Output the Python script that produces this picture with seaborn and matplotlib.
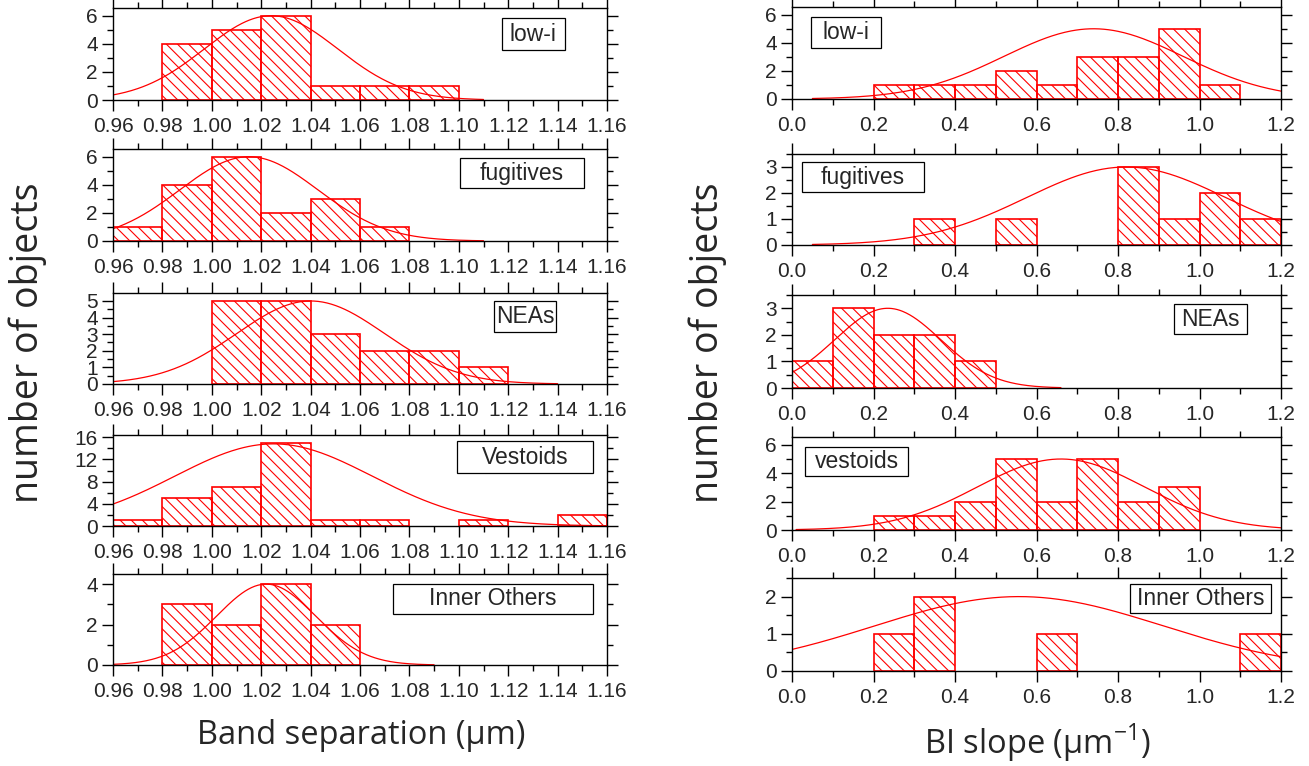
import numpy as np
import pandas as pd
import matplotlib
matplotlib.use("Agg")
import matplotlib.pyplot as plt
import seaborn as sns
from matplotlib.ticker import MultipleLocator, FormatStrFormatter
from matplotlib.patches import Rectangle

# ---------------- data ----------------
left_names = ["low-i", "fugitives", "NEAs", "Vestoids", "Inner Others"]
left_edges = [0.96, 0.98, 1.00, 1.02, 1.04, 1.06, 1.08, 1.10, 1.12, 1.14, 1.16]
left_lowi = [0, 4, 5, 6, 1, 1, 1, 0, 0, 0]
left_fugitives = [1, 4, 6, 2, 3, 1, 0, 0, 0, 0]
left_neas = [0, 0, 5, 5, 3, 2, 2, 1, 0, 0]
left_vestoids = [1, 5, 7, 15, 1, 1, 0, 1, 0, 2]
left_inner = [0, 3, 2, 4, 2, 0, 0, 0, 0, 0]
left_fit_mu = [1.024, 1.015, 1.040, 1.025, 1.022]
left_fit_sigma = [0.027, 0.028, 0.030, 0.040, 0.020]
left_fit_amp = [6.0, 6.0, 5.0, 14.8, 4.0]
left_fit_end = [1.11, 1.11, 1.14, 1.16, 1.09]
left_fit_start = [0.96, 0.96, 0.96, 0.96, 0.96]

right_names = ["low-i", "fugitives", "NEAs", "vestoids", "Inner Others"]
right_edges = [0.0, 0.1, 0.2, 0.3, 0.4, 0.5, 0.6, 0.7, 0.8, 0.9, 1.0, 1.1, 1.2]
right_lowi = [0, 0, 1, 1, 1, 2, 1, 3, 3, 5, 1, 0]
right_fugitives = [0, 0, 0, 1, 0, 1, 0, 0, 3, 1, 2, 1]
right_neas = [1, 3, 2, 2, 1, 0, 0, 0, 0, 0, 0, 0]
right_vestoids = [0, 0, 1, 1, 2, 5, 2, 5, 2, 3, 0, 0]
right_inner = [0, 0, 1, 2, 0, 0, 1, 0, 0, 0, 0, 1]
right_fit_mu = [0.74, 0.82, 0.235, 0.66, 0.557]
right_fit_sigma = [0.22, 0.245, 0.13, 0.205, 0.354]
right_fit_amp = [5.0, 3.0, 3.0, 5.0, 2.0]
right_fit_start = [0.05, 0.05, 0.0, 0.01, 0.0]
right_fit_end = [1.2, 1.2, 0.66, 1.2, 1.2]

left_counts = [left_lowi, left_fugitives, left_neas, left_vestoids, left_inner]
right_counts = [right_lowi, right_fugitives, right_neas, right_vestoids, right_inner]

# ---------------- style ----------------
sns.set_style("ticks")
plt.rcParams["font.family"] = ["Liberation Sans", "DejaVu Sans"]
plt.rcParams["hatch.linewidth"] = 0.8
plt.rcParams["hatch.color"] = "red"
plt.rcParams["mathtext.fontset"] = "custom"
plt.rcParams["mathtext.rm"] = "Open Sans"

W, H = 1309, 766
fig = plt.figure(figsize=(W / 100, H / 100), dpi=100)


def add_ax(x0, x1, y0, y1):
    return fig.add_axes([x0 / W, 1 - y1 / H, (x1 - x0) / W, (y1 - y0) / H])


left_rows = [(8, 100), (149, 241), (293, 384), (435, 526), (574, 665)]
right_rows = [(7, 99), (154, 245), (295, 388), (437, 530), (578, 671)]
left_ylim = [6.55, 6.55, 5.48, 16.4, 4.5]
left_ymaj = [2, 2, 1, 4, 2]
left_ymin = [1, 1, 0.5, 2, 1]
right_ylim = [6.55, 3.5, 3.5, 6.55, 2.5]
right_ymaj = [2, 1, 1, 2, 1]
right_ymin = [1, 0.5, 0.5, 1, 0.5]

left_boxes = [(0.787, 0.543, 0.915, 0.891), (0.702, 0.576, 0.953, 0.902),
              (0.771, 0.570, 0.897, 0.909), (0.696, 0.582, 0.972, 0.934),
              (0.567, 0.562, 0.972, 0.890)]
right_boxes = [(0.039, 0.554, 0.183, 0.888), (0.021, 0.577, 0.269, 0.916),
               (0.782, 0.582, 0.931, 0.898), (0.026, 0.583, 0.238, 0.891),
               (0.691, 0.628, 0.980, 0.931)]


def draw_panel(ax, edges, counts, mu, sigma, amp, xs0, xs1, xlim, xmaj, xmin, xfmt,
               ylim, ymaj, ymin, name, box):
    e = np.array(edges, dtype=float)
    centers = list((e[:-1] + e[1:]) / 2)
    df = pd.DataFrame({"x": centers, "w": [float(c) for c in counts]})
    sns.histplot(data=df, x="x", weights="w", bins=[float(v) for v in edges], ax=ax,
                 stat="count", facecolor="none", edgecolor="red", hatch="\\\\\\",
                 linewidth=1.2)
    for p in list(ax.patches):
        if p.get_height() == 0:
            p.remove()
    xs = np.linspace(xs0, xs1, 300)
    ys = amp * np.exp(-(xs - mu) ** 2 / (2 * sigma ** 2))
    sns.lineplot(x=xs, y=ys, ax=ax, color="red", linewidth=0.9)
    ax.set_xlim(*xlim)
    ax.set_ylim(0, ylim)
    ax.xaxis.set_major_locator(MultipleLocator(xmaj))
    ax.xaxis.set_minor_locator(MultipleLocator(xmin))
    ax.xaxis.set_major_formatter(FormatStrFormatter(xfmt))
    ax.yaxis.set_major_locator(MultipleLocator(ymaj))
    ax.yaxis.set_minor_locator(MultipleLocator(ymin))
    ax.tick_params(which="both", direction="out", top=True, right=True,
                   labelsize=15, width=1.0, color="black")
    ax.tick_params(axis="x", pad=4)
    ax.tick_params(axis="y", pad=3)
    ax.tick_params(which="major", length=8)
    ax.tick_params(which="minor", length=4)
    for s in ax.spines.values():
        s.set_visible(True)
        s.set_linewidth(1.0)
        s.set_color("black")
    ax.set_xlabel("")
    ax.set_ylabel("")
    bx0, by0, bx1, by1 = box
    ax.add_patch(Rectangle((bx0, by0), bx1 - bx0, by1 - by0, transform=ax.transAxes,
                           facecolor="white", edgecolor="black", linewidth=0.9, zorder=5))
    ax.text((bx0 + bx1) / 2, (by0 + by1) / 2, name, transform=ax.transAxes,
            ha="center", va="center", fontsize=16.5, zorder=6)


for i in range(5):
    ax = add_ax(113, 607, *left_rows[i])
    draw_panel(ax, left_edges, left_counts[i], left_fit_mu[i], left_fit_sigma[i],
               left_fit_amp[i], left_fit_start[i], left_fit_end[i], (0.96, 1.16),
               0.02, 0.01, "%.2f", left_ylim[i], left_ymaj[i], left_ymin[i],
               left_names[i], left_boxes[i])
    ax = add_ax(792, 1281, *right_rows[i])
    draw_panel(ax, right_edges, right_counts[i], right_fit_mu[i], right_fit_sigma[i],
               right_fit_amp[i], right_fit_start[i], right_fit_end[i], (0.0, 1.2),
               0.2, 0.1, "%.1f", right_ylim[i], right_ymaj[i], right_ymin[i],
               right_names[i], right_boxes[i])

fig.text(28 / W, 1 - 343 / H, "number of objects", rotation=90, ha="center",
         va="center", fontsize=27, family=["Open Sans", "DejaVu Sans"])
fig.text(708 / W, 1 - 343 / H, "number of objects", rotation=90, ha="center",
         va="center", fontsize=27, family=["Open Sans", "DejaVu Sans"])
fig.text(361 / W, 1 - 735 / H, "Band separation (\u03bcm)", ha="center", va="center",
         fontsize=23.5, family=["Open Sans", "DejaVu Sans"])
fig.text(1037 / W, 1 - 743 / H, "BI slope (\u03bcm$^{-1}$)", ha="center", va="center",
         fontsize=23.5, family=["Open Sans", "DejaVu Sans"])

fig.savefig("out.png", dpi=100)
